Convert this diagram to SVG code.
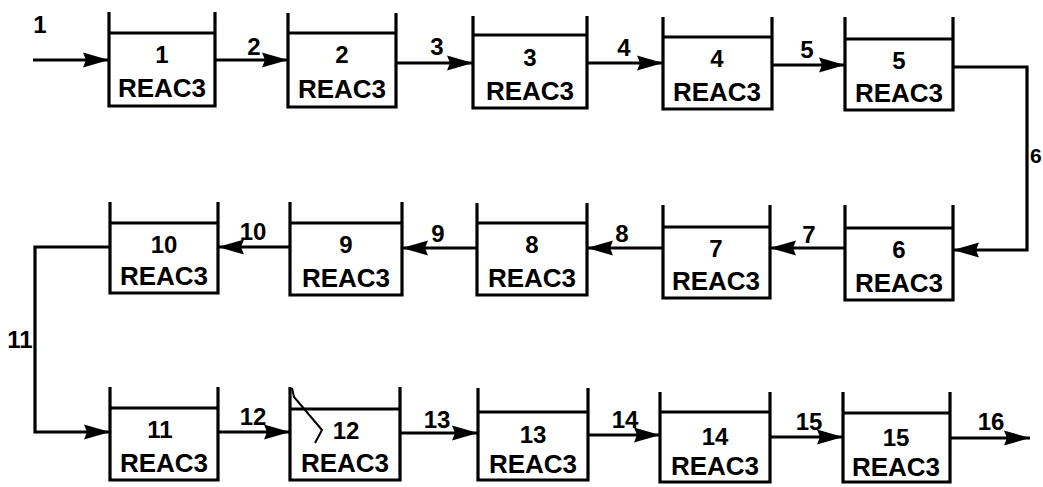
<svg xmlns="http://www.w3.org/2000/svg" width="1043" height="487" viewBox="0 0 1043 487">
<style>
.tank{fill:none;stroke:#000;stroke-width:3.2;stroke-linejoin:miter}
.num{font-family:"Liberation Sans",Arial,sans-serif;font-weight:bold;font-size:24px;text-anchor:middle;fill:#000}
.name{font-family:"Liberation Sans",Arial,sans-serif;font-weight:bold;font-size:26px;text-anchor:middle;fill:#000}
.lbl{font-family:"Liberation Sans",Arial,sans-serif;font-weight:bold;font-size:24px;fill:#000}
.conn{fill:none;stroke:#000;stroke-width:3.2;marker-end:url(#ah)}
</style>
<defs>
<marker id="ah" markerUnits="userSpaceOnUse" markerWidth="30" markerHeight="18" viewBox="0 -9 28 18" refX="26" refY="0" orient="auto">
<path d="M0,-7.5 L26,0 L0,7.5 L3,0 Z" fill="#000"/>
</marker>
</defs>
<rect width="1043" height="487" fill="#fff"/>
<g id="n1"><path class="tank" d="M109,12 V106 H215 V12 M109,33 H215"/><text class="num" x="162" y="63">1</text><text class="name" x="162" y="97">REAC3</text></g>
<g id="n2"><path class="tank" d="M288,13 V107 H396 V13 M288,33 H396"/><text class="num" x="342" y="63">2</text><text class="name" x="342" y="98">REAC3</text></g>
<g id="n3"><path class="tank" d="M473,16 V108 H587 V16 M473,35 H587"/><text class="num" x="530" y="66">3</text><text class="name" x="530" y="100">REAC3</text></g>
<g id="n4"><path class="tank" d="M663,17 V109 H772 V17 M663,37 H772"/><text class="num" x="717" y="67">4</text><text class="name" x="717" y="101">REAC3</text></g>
<g id="n5"><path class="tank" d="M845,17 V110 H953 V17 M845,39 H953"/><text class="num" x="899" y="69">5</text><text class="name" x="899" y="102">REAC3</text></g>
<g id="n6"><path class="tank" d="M845,205 V300 H953 V205 M845,228 H953"/><text class="num" x="899" y="258">6</text><text class="name" x="899" y="292">REAC3</text></g>
<g id="n7"><path class="tank" d="M663,205 V298 H770 V205 M663,227 H770"/><text class="num" x="716" y="257">7</text><text class="name" x="716" y="290">REAC3</text></g>
<g id="n8"><path class="tank" d="M477,203 V295 H587 V203 M477,223 H587"/><text class="num" x="532" y="253">8</text><text class="name" x="532" y="287">REAC3</text></g>
<g id="n9"><path class="tank" d="M290,202 V295 H402 V202 M290,223 H402"/><text class="num" x="346" y="253">9</text><text class="name" x="346" y="287">REAC3</text></g>
<g id="n10"><path class="tank" d="M110,202 V293 H218 V202 M110,223 H218"/><text class="num" x="164" y="253">10</text><text class="name" x="164" y="285">REAC3</text></g>
<g id="n11"><path class="tank" d="M110,387 V480 H218 V387 M110,408 H218"/><text class="num" x="160" y="438">11</text><text class="name" x="164" y="472">REAC3</text></g>
<g id="n12"><path class="tank" d="M290,387 V480 H400 V387 M290,409 H400"/><text class="num" x="346" y="439">12</text><text class="name" x="345" y="472">REAC3</text></g>
<g id="n13"><path class="tank" d="M478,388 V480 H588 V388 M478,412 H588"/><text class="num" x="533" y="443">13</text><text class="name" x="533" y="473">REAC3</text></g>
<g id="n14"><path class="tank" d="M660,392 V482 H770 V392 M660,412 H770"/><text class="num" x="715" y="445">14</text><text class="name" x="715" y="475">REAC3</text></g>
<g id="n15"><path class="tank" d="M843,392 V482 H950 V392 M843,413 H950"/><text class="num" x="896" y="446">15</text><text class="name" x="896" y="476">REAC3</text></g>
<g id="connectors">
<path class="conn" d="M33,60 H109"/>
<path class="conn" d="M215,60 H288"/>
<path class="conn" d="M396,63 H473"/>
<path class="conn" d="M587,63 H663"/>
<path class="conn" d="M772,65 H845"/>
<path class="conn" d="M953,67 H1027 V250 H953"/>
<path class="conn" d="M845,248 H770"/>
<path class="conn" d="M663,248 H587"/>
<path class="conn" d="M477,248 H402"/>
<path class="conn" d="M290,247 H218"/>
<path class="conn" d="M110,247 H35 V432 H110"/>
<path class="conn" d="M218,432 H290"/>
<path class="conn" d="M400,433 H478"/>
<path class="conn" d="M588,435 H660"/>
<path class="conn" d="M770,437 H843"/>
<path class="conn" d="M950,438 H1030"/>
<text class="lbl" x="40" y="33" text-anchor="middle">1</text>
<text class="lbl" x="254" y="55" text-anchor="middle">2</text>
<text class="lbl" x="437" y="55" text-anchor="middle">3</text>
<text class="lbl" x="624" y="56" text-anchor="middle">4</text>
<text class="lbl" x="807" y="58" text-anchor="middle">5</text>
<text class="lbl" x="1030" y="163" style="font-size:21px">6</text>
<text class="lbl" x="809" y="243" text-anchor="middle">7</text>
<text class="lbl" x="622" y="242" text-anchor="middle">8</text>
<text class="lbl" x="438" y="242" text-anchor="middle">9</text>
<text class="lbl" x="253" y="240" text-anchor="middle">10</text>
<text class="lbl" x="20" y="348" text-anchor="middle">11</text>
<text class="lbl" x="253" y="425" text-anchor="middle">12</text>
<text class="lbl" x="437" y="428" text-anchor="middle">13</text>
<text class="lbl" x="625" y="428" text-anchor="middle">14</text>
<text class="lbl" x="809" y="430" text-anchor="middle">15</text>
<text class="lbl" x="991" y="430" text-anchor="middle">16</text>
</g>
<path d="M292,388 L294,397 L322,430 L315,443" fill="none" stroke="#000" stroke-width="2"/>
</svg>
